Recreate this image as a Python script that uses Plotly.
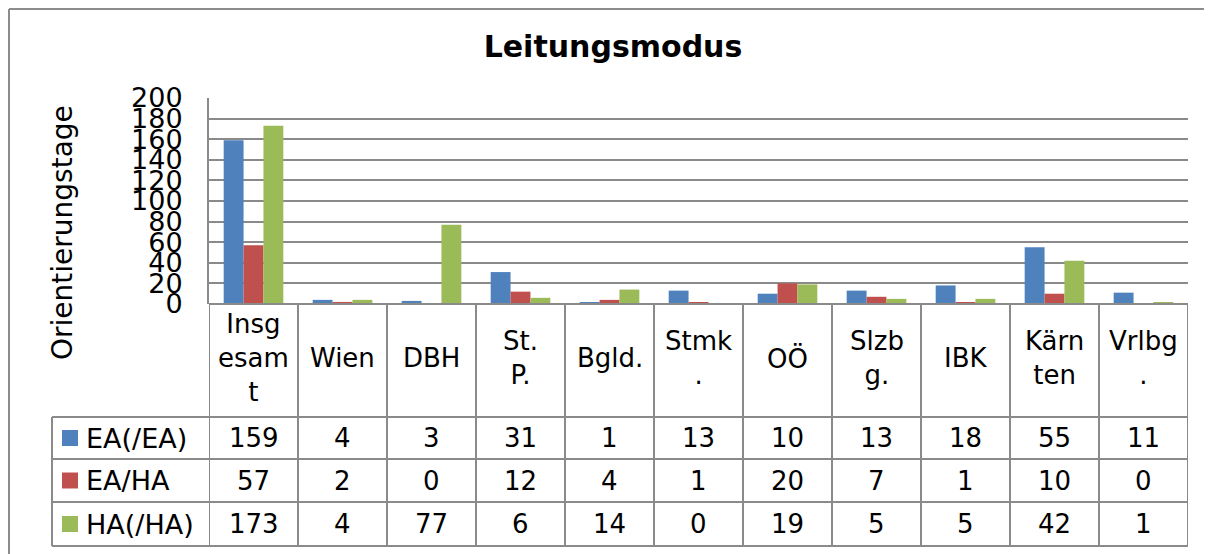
import plotly.graph_objects as go

# ---- data ----
categories = ["Insgesamt", "Wien", "DBH", "St. P.", "Bgld.", "Stmk.", "OÖ",
              "Slzbg.", "IBK", "Kärnten", "Vrlbg."]
header_labels = ["Insg<br>esam<br>t", "Wien", "DBH", "St.<br>P.", "Bgld.",
                 "Stmk<br>.", "OÖ", "Slzb<br>g.", "IBK", "Kärn<br>ten", "Vrlbg<br>."]
series_names = ["EA(/EA)", "EA/HA", "HA(/HA)"]
ea_ea = [159, 4, 3, 31, 1, 13, 10, 13, 18, 55, 11]
ea_ha = [57, 2, 0, 12, 4, 1, 20, 7, 1, 10, 0]
ha_ha = [173, 4, 77, 6, 14, 0, 19, 5, 5, 42, 1]
series_values = [ea_ea, ea_ha, ha_ha]
colors = ["#4F81BD", "#C0504D", "#9BBB59"]
y_ticks = list(range(0, 201, 20))
title_text = "Leitungsmodus"
y_title = "Orientierungstage"

# ---- layout geometry (page pixels; the page body has an 8px margin) ----
OFF = 8
PAGE_W, PAGE_H = 1212, 554
W, H = PAGE_W - OFF, PAGE_H - OFF
L, R, T, B = 209, 1188, 98, 304
PW, PH = R - L, B - T
FONT = "DejaVu Sans, Verdana, sans-serif"
GRID = "#8a8a8a"


def px(x):
    return (x - L) / PW


def py(y):
    return (B - y) / PH


fig = go.Figure()
for name, vals, col in zip(series_names, series_values, colors):
    fig.add_trace(go.Bar(x=categories, y=vals, name=name, marker_color=col,
                         marker_line_width=0, showlegend=False))

shapes = []
annotations = []

# outer chart border (top and left)
shapes.append(dict(type="line", xref="paper", yref="paper", x0=px(OFF + 1), x1=px(PAGE_W + 5),
                   y0=py(OFF + 1), y1=py(OFF + 1), line=dict(color="#8c8c8c", width=2)))
shapes.append(dict(type="line", xref="paper", yref="paper", x0=px(OFF + 1), x1=px(OFF + 1),
                   y0=py(OFF + 1), y1=py(PAGE_H + 5), line=dict(color="#8c8c8c", width=2)))

# table grid
row_lines = [417, 459, 502, 546]
n = len(categories)
for i in range(n + 1):
    shapes.append(dict(type="line", xref="x", yref="paper", x0=i - 0.5, x1=i - 0.5,
                       y0=py(B), y1=py(row_lines[-1]), line=dict(color=GRID, width=2)))
shapes.append(dict(type="line", xref="paper", yref="paper", x0=px(52), x1=px(52),
                   y0=py(row_lines[0]), y1=py(row_lines[-1]), line=dict(color=GRID, width=2)))
for yl in row_lines:
    shapes.append(dict(type="line", xref="paper", yref="paper", x0=px(52), x1=1,
                       y0=py(yl), y1=py(yl), line=dict(color=GRID, width=2)))
shapes.append(dict(type="line", xref="paper", yref="paper", x0=0, x1=1,
                   y0=0, y1=0, line=dict(color=GRID, width=2)))

# header labels
for cat, lab in zip(categories, header_labels):
    annotations.append(dict(x=cat, xref="x", y=py(358), yref="paper", text=lab,
                            showarrow=False, xanchor="center", yanchor="middle",
                            font=dict(family=FONT, size=26, color="black")))

# data rows
for r, (name, vals, col) in enumerate(zip(series_names, series_values, colors)):
    yc = (row_lines[r] + row_lines[r + 1]) / 2
    shapes.append(dict(type="rect", xref="paper", yref="paper", x0=px(62), x1=px(78),
                       y0=py(yc - 8), y1=py(yc + 8), fillcolor=col, line=dict(width=0)))
    annotations.append(dict(x=px(84), xref="paper", y=py(yc), yref="paper", text=name,
                            showarrow=False, xanchor="left", yanchor="middle",
                            font=dict(family=FONT, size=27, color="black")))
    for cat, v in zip(categories, vals):
        annotations.append(dict(x=cat, xref="x", y=py(yc), yref="paper", text=str(v),
                                showarrow=False, xanchor="center", yanchor="middle",
                                font=dict(family=FONT, size=26, color="black")))

# y-axis title
annotations.append(dict(x=px(62), xref="paper", y=py(233), yref="paper", text=y_title,
                        textangle=-90, showarrow=False, xanchor="center", yanchor="middle",
                        font=dict(family=FONT, size=28, color="black")))

fig.update_layout(
    template="none",
    width=W, height=H, autosize=False,
    margin=dict(l=L - OFF, r=PAGE_W - R, t=T - OFF, b=PAGE_H - B, pad=0),
    paper_bgcolor="white", plot_bgcolor="white",
    barmode="group", bargap=0.33, bargroupgap=0,
    title=dict(text="<b>" + title_text + "</b>", x=(613 - OFF) / W, xanchor="center",
               y=1 - (46 - OFF) / H, yanchor="middle",
               font=dict(family=FONT, size=30, color="black")),
    xaxis=dict(type="category", range=[-0.5, n - 0.5], showticklabels=False,
               showgrid=False, zeroline=False, showline=False, ticks="",
               automargin=False, fixedrange=True),
    yaxis=dict(range=[0, 200], tickvals=y_ticks, ticktext=[str(t) for t in y_ticks],
               showgrid=True, gridcolor=GRID, gridwidth=2, zeroline=False,
               showline=True, linecolor=GRID, linewidth=2, ticks="",
               ticklabelstandoff=19, automargin=False,
               tickfont=dict(family=FONT, size=27, color="black")),
    shapes=shapes,
    annotations=annotations,
    showlegend=False,
)

fig.write_html("out.html")
